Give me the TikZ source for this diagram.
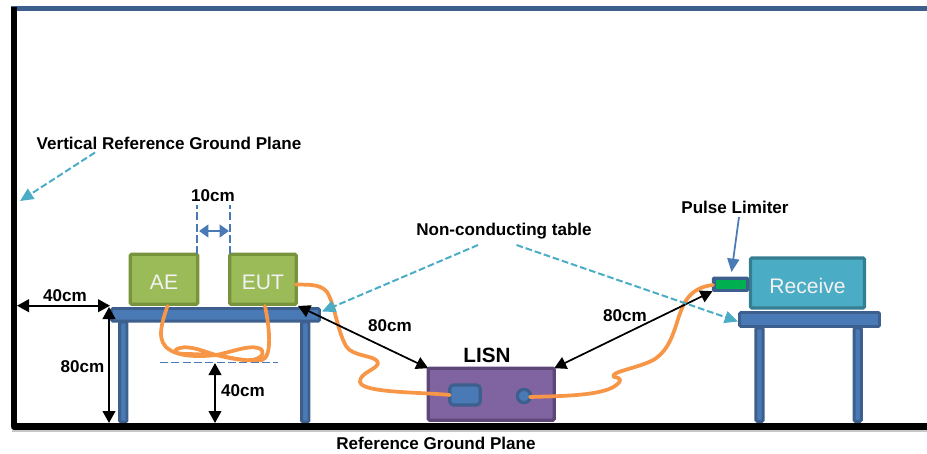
\documentclass[tikz,border=0pt]{standalone}
\usepackage{fontspec}
\setmainfont{Liberation Sans}
\usetikzlibrary{arrows.meta,positioning}
\definecolor{tblue}{HTML}{4A7AB5}
\definecolor{tblueD}{HTML}{3C5F8D}
\definecolor{grn}{HTML}{9BBB59}
\definecolor{grnD}{HTML}{77933C}
\definecolor{purp}{HTML}{8064A2}
\definecolor{purpD}{HTML}{5C4776}
\definecolor{teal1}{HTML}{4BACC6}
\definecolor{teal2}{HTML}{357D91}
\definecolor{cable}{HTML}{F79646}
\definecolor{limgreen}{HTML}{00B050}
\newcommand{\boxtext}[1]{\raisebox{-4pt}[8pt][0pt]{#1}}
\tikzset{
  px/.style={x=0.75pt,y=-0.75pt},
  lbl/.style={font=\fontsize{12.8}{14}\selectfont\bfseries,inner sep=0pt,text=black},
  boxlbl/.style={font=\fontsize{15.8}{18}\selectfont,text=white!95!black,inner sep=0pt},
  tablepart/.style={fill=tblue,draw=tblueD,line width=2.2pt,rounded corners=1pt,inner sep=0pt,minimum width=#1,outer sep=0pt},
  dim/.style={black,line width=1.5pt,{Triangle[width=9.5pt,length=9pt]}-{Triangle[width=9.5pt,length=9pt]}},
  callout/.style={teal1,line width=1.5pt,dash pattern=on 5pt off 2.2pt,-{Triangle[width=9pt,length=10pt]}},
  wire/.style={cable,line width=2.8pt,line cap=round,line join=round},
  guide/.style={tblue,line width=1.3pt,dash pattern=on 6pt off 2.5pt},
  plane/.style={black,line width=5pt},
}
\begin{document}
\begin{tikzpicture}[px]
\useasboundingbox (0,0) rectangle (927,453);
% planes
\fill[black!22] (12,430) rectangle (927,432);
\draw[tblueD,line width=3.2pt] (11,8.5) -- (927,8.5);
\coordinate (vtop) at (14,7);
\coordinate (corner) at (14,426.5);
\coordinate (hend) at (927,426.5);
% left table
\node[tablepart=5.5pt,minimum height=75pt,anchor=north] (legL1) at (123.3,322) {};
\node[tablepart=5.5pt,minimum height=75pt,anchor=north] (legL2) at (305.3,322) {};
\node[tablepart=156pt,minimum height=9.5pt,anchor=north west] (tableL) at (111.5,308.5) {};
% right table
\node[tablepart=5.5pt,minimum height=70pt,anchor=north] (legR1) at (759.5,328) {};
\node[tablepart=5.5pt,minimum height=70pt,anchor=north] (legR2) at (857.7,328) {};
\node[tablepart=105pt,minimum height=10.5pt,anchor=north west] (tableR) at (739.5,312.5) {};
\draw[plane,line cap=butt,line join=round] (vtop) -- (corner) -- (hend);
% AE and EUT
\node[fill=grn,draw=grnD,line width=2.4pt,rounded corners=1pt,minimum width=50.5pt,minimum height=37.5pt,inner sep=0pt,outer sep=0pt,boxlbl] (ae) at (164,279.3) {\boxtext{AE}};
\node[fill=grn,draw=grnD,line width=2.4pt,rounded corners=1pt,minimum width=50pt,minimum height=37.5pt,inner sep=0pt,outer sep=0pt,boxlbl] (eut) at (263,279.3) {\boxtext{EUT}};
% LISN
\node[fill=purp,draw=purpD,line width=2.4pt,rounded corners=1pt,minimum width=94.5pt,minimum height=39pt,inner sep=0pt,outer sep=0pt] (lisn) at (491.2,394.2) {};
\node[fill=tblue,draw=tblueD,line width=2.4pt,rounded corners=3pt,minimum width=23pt,minimum height=15pt,inner sep=0pt,outer sep=0pt] (port) at (465,395) {};
\node[circle,fill=tblue,draw=tblueD,line width=2.4pt,minimum size=10pt,inner sep=0pt,outer sep=0pt] (jack) at (524,396) {};
% Receiver
\node[fill=teal1,draw=teal2,line width=2.4pt,rounded corners=1pt,minimum width=85.5pt,minimum height=37.5pt,inner sep=0pt,outer sep=0pt,boxlbl] (rx) at (807.5,283) {\boxtext{Receive}};
\node[fill=tblueD,draw=tblueD,line width=1pt,rounded corners=1pt,minimum width=27pt,minimum height=10.5pt,inner sep=0pt,outer sep=0pt,anchor=west] (lim) at (712.5,284.2) {};
\node[fill=limgreen,inner sep=0pt,minimum width=22.5pt,minimum height=6.5pt] (limg) at (731,284.6) {};
% named connector ends
\coordinate (w1) at (167.5,306);
\coordinate (w2) at (265,306);
\coordinate (w3) at (296,284.5);
\coordinate (w5) at (530,397);
\coordinate (w6) at (713,285);
\coordinate (t40a) at (17,305.7);
\coordinate (t40b) at (110,305.7);
\coordinate (t80a) at (109,307);
\coordinate (t80b) at (109,423);
\coordinate (h1) at (215,363);
\coordinate (h2) at (215,423);
% wires
\draw[wire] (w1) .. controls (161,325) and (156,342) .. (170,350)
  .. controls (176,354) and (190,358) .. (216,355)
  .. controls (232,352) and (248,345) .. (258,348)
  .. controls (266,350) and (264,358) .. (252,360)
  .. controls (240,361) and (225,357) .. (216,355)
  .. controls (205,352) and (190,345) .. (180,348)
  .. controls (172,350) and (174,354) .. (186,354)
  .. controls (197,354) and (207,355) .. (216,355)
  .. controls (232,358) and (250,362) .. (262,360)
  .. controls (272,357) and (270,330) .. (w2);
\draw[wire] (w3) .. controls (305,285) and (320,283) .. (327,292)
  .. controls (335,305) and (337,330) .. (346,346)
  .. controls (352,357) and (377,355) .. (378,363)
  .. controls (378,369) and (359,373) .. (360,382)
  .. controls (362,393) and (420,392) .. (port.west);
\draw[wire] (w5) .. controls (560,396) and (600,396) .. (615,386)
  .. controls (622,381) and (622,378) .. (614,377)
  .. controls (608,372) and (640,368) .. (655,359)
  .. controls (675,345) and (675,320) .. (685,302)
  .. controls (692,290) and (703,286) .. (w6);
% dimensions
\draw[dim] (t40a) -- (t40b);
\draw[dim] (t80a) -- (t80b);
\draw[guide] (160,362.5) coordinate (g1) -- (278,362.5) coordinate (g2);
\draw[dim] (h1) -- (h2);
\draw[guide] (ae.north east) ++(-0.5,0) -- ++(0,-49);
\draw[guide] (eut.north west) ++(0.5,0) -- ++(0,-49);
\coordinate (b1) at (199,231);
\coordinate (b2) at (229,231);
\draw[tblue,line width=1.6pt,{Triangle[width=9.5pt,length=7pt]}-{Triangle[width=9.5pt,length=7pt]}] (b1) -- (b2);
\coordinate (a1) at (298,306);
\draw[dim,line width=1.3pt] (a1) -- (lisn.north west);
\draw[dim,line width=1.3pt] (lisn.north east) -- (lim.south west);
% labels
\node[lbl] (n10) at (213,196) {10cm};
\node[lbl] (n40a) at (65,296) {40cm};
\node[lbl] (n80a) at (82.5,367) {80cm};
\node[lbl] (n40b) at (243,391) {40cm};
\node[lbl] (n80b) at (390,326) {80cm};
\node[lbl] (n80c) at (625,316) {80cm};
\node[lbl] (vref) at (169,143) {Vertical Reference Ground Plane};
\node[lbl] (nct) at (504,231) {Non-conducting table};
\node[lbl] (plim) at (735,207.5) {Pulse Limiter};
\node[lbl] (gnd) at (436,443.5) {Reference Ground Plane};
\node[lbl,font=\fontsize{15.5}{17}\selectfont\bfseries] (lisnl) at (487,355) {LISN};
% callouts
\coordinate (c1) at (95,152.5);
\coordinate (c1t) at (20,201);
\coordinate (c2) at (478,245);
\coordinate (c2t) at (322,311.5);
\coordinate (c3) at (516.5,245);
\coordinate (c3t) at (738,321.5);
\draw[callout] (c1) -- (c1t);
\draw[callout] (c2) -- (c2t);
\draw[callout] (c3) -- (c3t);
\coordinate (p1) at (739,217);
\coordinate (p1t) at (731.5,272);
\draw[tblue,line width=1.3pt,-{Triangle[width=9pt,length=10pt]}] (p1) -- (p1t);
\end{tikzpicture}
\end{document}
